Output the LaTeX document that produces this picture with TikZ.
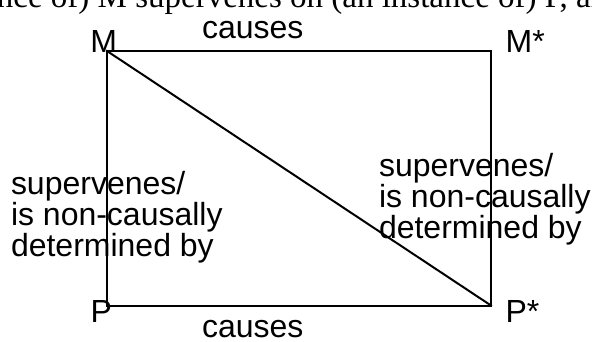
\documentclass[tikz,border=0pt]{standalone}
\usepackage{fontspec}
\setmainfont{Liberation Sans}
\newfontfamily\serifface{Liberation Serif}
\begin{document}
\begin{tikzpicture}[x=1pt,y=-1pt,
  lbl/.style={inner sep=0pt, outer sep=0pt, font=\fontsize{32}{31}\selectfont},
  multi/.style={lbl, align=left, anchor=north west},
  edge/.style={line width=2pt, line cap=rect}]
\useasboundingbox (0,0) rectangle (592,341);
\clip (0,0) rectangle (592,341);
\fill[white] (0,0) rectangle (592,341);
% clipped running text from the page above
\node[inner sep=0pt, anchor=base west, font=\serifface\fontsize{33}{33}\selectfont] (runtext) at (-116,7) {(an instance of) M supervenes on (an instance of) P, and};
% corners
\coordinate (cM) at (107,51);
\coordinate (cMs) at (491,51);
\coordinate (cP) at (107,305.5);
\coordinate (cPs) at (491,305.5);
\draw[edge] (cM) -- (cMs) -- (cPs) -- (cP) -- cycle;
\draw[edge] (cM) -- (cPs);
% labels
\node[lbl, anchor=base west] (M) at (90.3,52) {M};
\node[lbl, anchor=base west] (Ms) at (505.6,52) {M*};
\node[lbl, anchor=base west] (P) at (90.5,322) {P};
\node[lbl, anchor=base west] (Ps) at (505.5,322) {P*};
\node[lbl, anchor=base west] (ctop) at (202,38) {causes};
\node[lbl, anchor=base west] (cbot) at (202,337) {causes};
\node[multi] (left) at (11,171.7) {supervenes/\\is non-causally\\determined by};
\node[multi] (right) at (379,153.7) {supervenes/\\is non-causally\\determined by};
\end{tikzpicture}
\end{document}
